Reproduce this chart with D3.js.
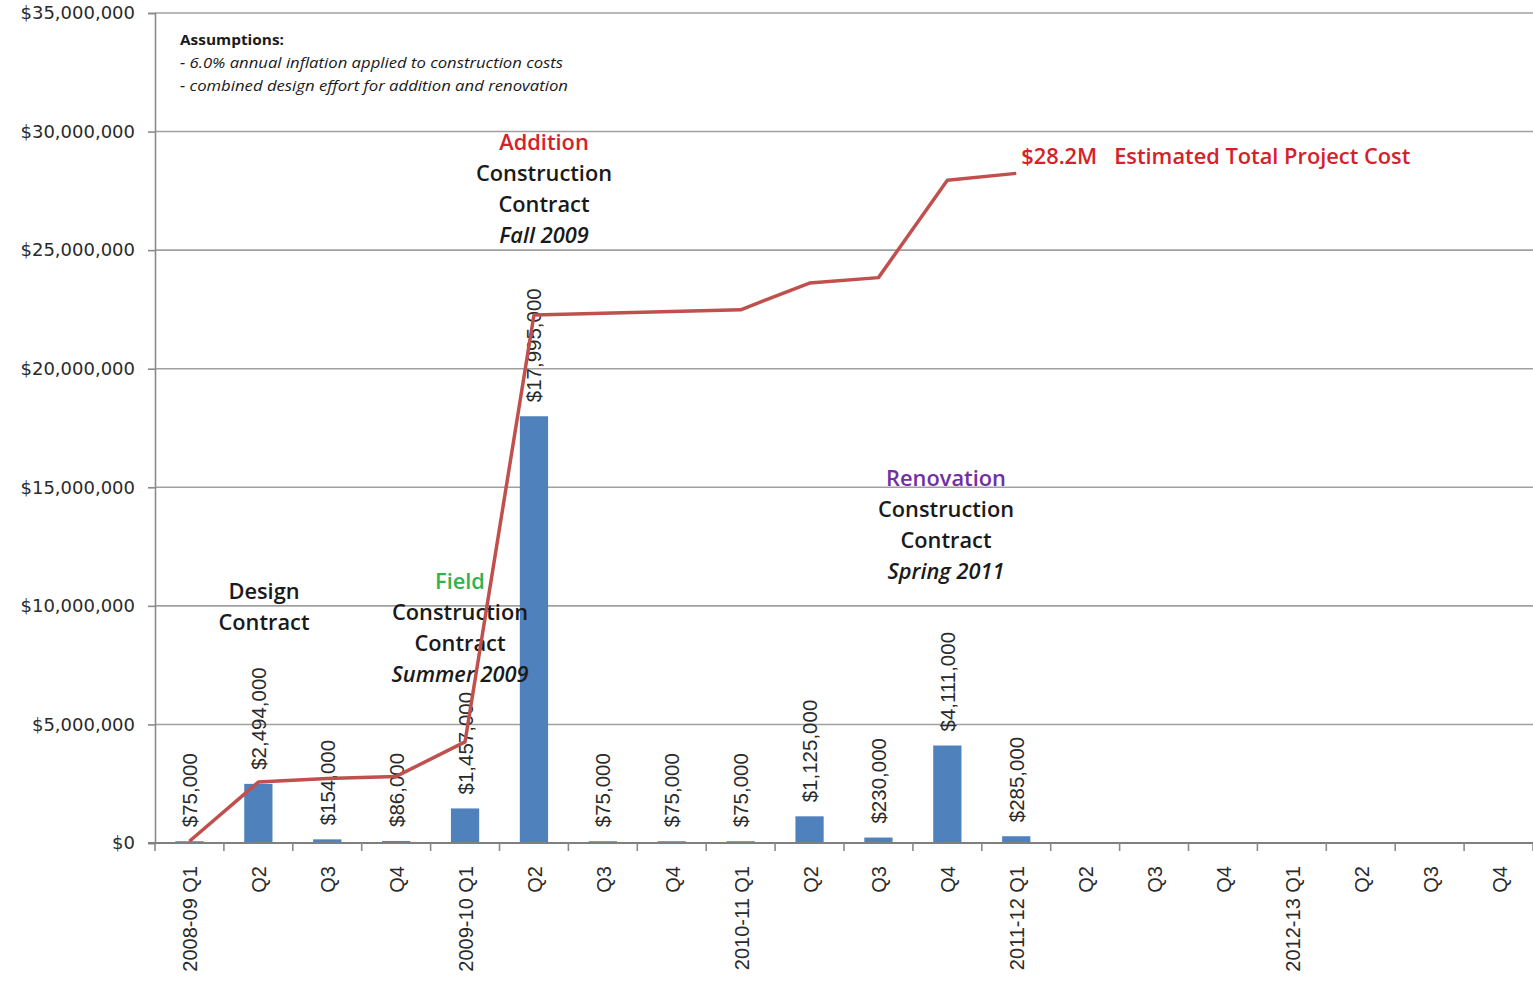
<!DOCTYPE html>
<html>
<head>
<meta charset="utf-8">
<script src="https://cdn.jsdelivr.net/npm/d3@7"></script>
<style>
  html, body { margin: 0; padding: 0; background: #fff; }
  svg { display: block; }
</style>
</head>
<body>
<svg id="chart" width="1533" height="988"></svg>
<script>
// Quarterly categories (fiscal year shown on Q1 only)
const quarters = [
  "2008-09 Q1", "Q2", "Q3", "Q4",
  "2009-10 Q1", "Q2", "Q3", "Q4",
  "2010-11 Q1", "Q2", "Q3", "Q4",
  "2011-12 Q1", "Q2", "Q3", "Q4",
  "2012-13 Q1", "Q2", "Q3", "Q4"
];

// Quarterly spending (bars); null = no spending in that quarter
const quarterlyCost = [
  75000, 2494000, 154000, 86000,
  1457000, 17995000, 75000, 75000,
  75000, 1125000, 230000, 4111000,
  285000, null, null, null,
  null, null, null, null
];

// Running project total (line)
const runningTotal = [
  75000, 2569000, 2723000, 2809000,
  4266000, 22261000, 22336000, 22411000,
  22486000, 23611000, 23841000, 27952000,
  28237000, null, null, null,
  null, null, null, null
];

// Value axis ticks
const yTicks = [0, 5000000, 10000000, 15000000, 20000000, 25000000, 30000000, 35000000];

// Milestone annotations
const milestones = [
  { cx: 264, y: 592, lines: [
      { t: "Design", c: "#1a1a1a" },
      { t: "Contract", c: "#1a1a1a" }] },
  { cx: 460, y: 582, lines: [
      { t: "Field", c: "#2fb34f" },
      { t: "Construction", c: "#1a1a1a" },
      { t: "Contract", c: "#1a1a1a" },
      { t: "Summer 2009", c: "#1a1a1a", i: true }] },
  { cx: 544, y: 143, lines: [
      { t: "Addition", c: "#d4222b" },
      { t: "Construction", c: "#1a1a1a" },
      { t: "Contract", c: "#1a1a1a" },
      { t: "Fall 2009", c: "#1a1a1a", i: true }] },
  { cx: 946, y: 479, lines: [
      { t: "Renovation", c: "#7030a0" },
      { t: "Construction", c: "#1a1a1a" },
      { t: "Contract", c: "#1a1a1a" },
      { t: "Spring 2011", c: "#1a1a1a", i: true }] }
];

const assumptions = [
  "- 6.0% annual inflation applied to construction costs",
  "- combined design effort for addition and renovation"
];
const assumptionWidths = [383, 388];

const svg = d3.select("#chart");
const margin = { left: 155, right: 0, top: 13, bottom: 145 };
const W = 1533, H = 988;

const x = d3.scaleBand()
  .domain(d3.range(quarters.length))
  .range([margin.left, W - margin.right])
  .padding(0);

const y = d3.scaleLinear()
  .domain([0, 35000000])
  .range([H - margin.bottom, margin.top]);

const money = d3.format("$,.0f");

// Horizontal gridlines
svg.append("g")
  .selectAll("line")
  .data(yTicks.filter(d => d > 0))
  .join("line")
  .attr("x1", margin.left).attr("x2", W)
  .attr("y1", d => y(d)).attr("y2", d => y(d))
  .attr("stroke", "#a0a0a0").attr("stroke-width", 1.6);

// Y axis
const yAxis = svg.append("g")
  .attr("transform", `translate(${margin.left},0)`)
  .call(d3.axisLeft(y).tickValues(yTicks).tickFormat(money).tickSize(7).tickPadding(13));
yAxis.select(".domain").attr("stroke", "#8a8a8a").attr("stroke-width", 1.6);
yAxis.selectAll(".tick line").attr("stroke", "#8a8a8a").attr("stroke-width", 1.6);
yAxis.selectAll(".tick text")
  .attr("font-family", "'DejaVu Sans', sans-serif")
  .attr("font-size", 18)
  .attr("fill", "#2a2a2a");

// Bars
const barW = x.bandwidth() * 0.41;
const barData = quarterlyCost.map((v, i) => ({ v, i })).filter(d => d.v != null);
svg.append("g")
  .selectAll("rect")
  .data(barData)
  .join("rect")
  .attr("x", d => x(d.i) + (x.bandwidth() - barW) / 2)
  .attr("width", barW)
  .attr("y", d => y(d.v))
  .attr("height", d => y(0) - y(d.v))
  .attr("fill", "#4f81bd");

// X axis (category boundaries as ticks)
const xAxisY = y(0);
svg.append("line")
  .attr("x1", margin.left - 7).attr("x2", W)
  .attr("y1", xAxisY).attr("y2", xAxisY)
  .attr("stroke", "#7f7f7f").attr("stroke-width", 2.2);
svg.append("g")
  .selectAll("line")
  .data(d3.range(quarters.length + 1))
  .join("line")
  .attr("x1", i => margin.left + i * x.step())
  .attr("x2", i => margin.left + i * x.step())
  .attr("y1", xAxisY).attr("y2", xAxisY + 8)
  .attr("stroke", "#8a8a8a").attr("stroke-width", 1.6);

svg.append("g")
  .selectAll("text")
  .data(quarters)
  .join("text")
  .attr("transform", (d, i) => `translate(${x(i) + x.bandwidth() / 2 + 1},${xAxisY + 23}) rotate(-90)`)
  .attr("text-anchor", "end")
  .attr("dominant-baseline", "central")
  .attr("font-family", "'Liberation Sans', Arial, sans-serif")
  .attr("font-size", 20)
  .attr("fill", "#2a2a2a")
  .text(d => d);

// Value labels above bars
svg.append("g")
  .selectAll("text")
  .data(barData)
  .join("text")
  .attr("transform", d => `translate(${x(d.i) + x.bandwidth() / 2},${y(d.v) - 14}) rotate(-90)`)
  .attr("text-anchor", "start")
  .attr("dominant-baseline", "central")
  .attr("font-family", "'Liberation Sans', Arial, sans-serif")
  .attr("font-size", 20.5)
  .attr("fill", "#2a2a2a")
  .text(d => money(d.v));

// Assumptions note
const note = svg.append("g").attr("font-family", "'Open Sans', sans-serif").attr("fill", "#1a1a1a");
note.append("text").attr("x", 180).attr("y", 45)
  .attr("font-size", 14.5).attr("font-weight", 700)
  .attr("textLength", 104).attr("lengthAdjust", "spacingAndGlyphs")
  .text("Assumptions:");
note.selectAll("text.line")
  .data(assumptions)
  .join("text")
  .attr("class", "line")
  .attr("x", 180).attr("y", (d, i) => 68 + i * 23)
  .attr("font-size", 14.5).attr("font-style", "italic")
  .attr("textLength", (d, i) => assumptionWidths[i])
  .attr("lengthAdjust", "spacingAndGlyphs")
  .text(d => d);

// Milestone annotations
milestones.forEach(m => {
  const g = svg.append("g")
    .attr("font-family", "'Open Sans', sans-serif")
    .attr("font-size", 21.8)
    .attr("font-weight", 600)
    .attr("text-anchor", "middle");
  g.selectAll("text")
    .data(m.lines)
    .join("text")
    .attr("x", m.cx)
    .attr("y", (d, i) => m.y + 7 + i * 31)
    .attr("fill", d => d.c)
    .attr("font-style", d => d.i ? "italic" : "normal")
    .text(d => d.t);
});

// Running total line
const lineData = runningTotal.map((v, i) => ({ v, i })).filter(d => d.v != null);
const line = d3.line()
  .x(d => x(d.i) + x.bandwidth() / 2)
  .y(d => y(d.v));
svg.append("path")
  .datum(lineData)
  .attr("d", line)
  .attr("fill", "none")
  .attr("stroke", "#c0504d")
  .attr("stroke-width", 3.5)
  .attr("stroke-linejoin", "round");

// Total label at the end of the line
const last = lineData[lineData.length - 1];
svg.append("text")
  .attr("x", x(last.i) + x.bandwidth() / 2 + 5)
  .attr("y", 164)
  .attr("font-family", "'Open Sans', sans-serif")
  .attr("font-size", 21.8)
  .attr("font-weight", 600)
  .attr("fill", "#d4222b")
  .attr("xml:space", "preserve")
  .text("$28.2M   Estimated Total Project Cost");
</script>
</body>
</html>
